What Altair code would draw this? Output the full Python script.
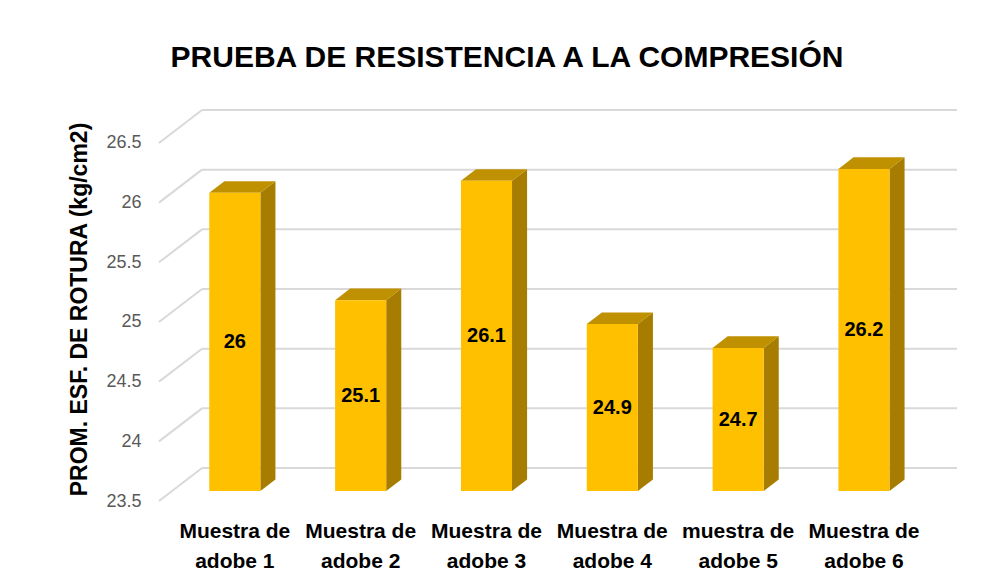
import altair as alt
import pandas as pd

# ---- data ----
categories = ["Muestra de\nadobe 1", "Muestra de\nadobe 2", "Muestra de\nadobe 3",
              "Muestra de\nadobe 4", "muestra de\nadobe 5", "Muestra de\nadobe 6"]
values = [26.0, 25.1, 26.1, 24.9, 24.7, 26.2]
y_ticks = [23.5, 24.0, 24.5, 25.0, 25.5, 26.0, 26.5]

TITLE = "PRUEBA DE RESISTENCIA A LA COMPRESIÓN"
Y_TITLE = "PROM. ESF. DE ROTURA (kg/cm2)"

# ---- 3D projection constants (style) ----
DX = 0.342      # horizontal shift of full depth, in category units
DY = 0.2765     # vertical shift of full depth, in value units
F_FRONT = 0.30  # bar front face depth fraction
F_BACK = 0.65   # bar back face depth fraction
HALF = 0.203    # half bar width in category units
BASE = y_ticks[0]
N = len(values)

X_MIN, X_MAX = -0.5, N - 0.5 + DX
Y_MIN, Y_MAX = BASE, y_ticks[-1] + DY

xs = alt.Scale(domain=[X_MIN, X_MAX], nice=False, zero=False)
ys = alt.Scale(domain=[Y_MIN, Y_MAX], nice=False, zero=False)

FONT = "Liberation Sans"
GRID = "#D9D9D9"
C_FRONT = "#FFC000"
C_TOP = "#BF9000"
C_SIDE = "#A67D00"

# ---- build tables ----
grid_rows = []
for v in y_ticks:
    grid_rows.append({"x": -0.5, "y": v, "x2": -0.5 + DX, "y2": v + DY})
    grid_rows.append({"x": -0.5 + DX, "y": v + DY, "x2": N - 0.5 + DX, "y2": v + DY})
grid = pd.DataFrame(grid_rows)

ff, fb = F_FRONT, F_BACK
front = pd.DataFrame([{
    "i": i,
    "x": i + ff * DX - HALF, "x2": i + ff * DX + HALF,
    "y": BASE + ff * DY, "y2": v + ff * DY,
} for i, v in enumerate(values)])

side_rows, top_rows = [], []
for i, v in enumerate(values):
    xr = i + ff * DX + HALF
    xl = i + ff * DX - HALF
    d = fb - ff
    side_rows.append({"i": i, "x": xr, "y": BASE + ff * DY, "y2": v + ff * DY})
    side_rows.append({"i": i, "x": xr + d * DX, "y": BASE + fb * DY, "y2": v + fb * DY})
    top_rows.append({"i": i, "y": v + ff * DY, "x": xl, "x2": xr})
    top_rows.append({"i": i, "y": v + fb * DY, "x": xl + d * DX, "x2": xr + d * DX})
side = pd.DataFrame(side_rows)
top = pd.DataFrame(top_rows)

labels = pd.DataFrame([{
    "x": i + ff * DX,
    "y": (BASE + v) / 2 + ff * DY,
    "val": f"{v:g}",
    "cat": categories[i],
} for i, v in enumerate(values)])

yaxis = alt.Axis(values=y_ticks, format=".3~g", domain=False, ticks=False, grid=False,
                 labelFont=FONT, labelFontSize=18, labelColor="#595959", labelPadding=18,
                 title=Y_TITLE, titleFont=FONT, titleFontSize=23, titleFontWeight="bold",
                 titleColor="black", titleAngle=270, titleX=-80, titleY=199,
                 titleAlign="center", titleBaseline="middle")


def Y(field):
    return alt.Y(field, scale=ys, axis=yaxis)


def X(field):
    return alt.X(field, scale=xs, axis=None)


grid_layer = alt.Chart(grid).mark_rule(color=GRID, strokeWidth=2).encode(
    x=X("x:Q"), x2="x2:Q", y=Y("y:Q"), y2="y2:Q")

front_layer = alt.Chart(front).mark_rect(color=C_FRONT).encode(
    x=X("x:Q"), x2="x2:Q", y=Y("y:Q"), y2="y2:Q")

side_layer = alt.Chart(side).mark_area(color=C_SIDE, orient="vertical", opacity=1).encode(
    x=X("x:Q"), y=Y("y:Q"), y2="y2:Q", detail="i:N")

top_layer = alt.Chart(top).mark_area(color=C_TOP, orient="horizontal", opacity=1).encode(
    y=Y("y:Q"), x=X("x:Q"), x2="x2:Q", detail="i:N")

val_layer = alt.Chart(labels).mark_text(font=FONT, fontSize=20, fontWeight="bold",
                                        color="black", baseline="middle").encode(
    x=X("x:Q"), y=Y("y:Q"), text="val:N")

cat_layer = alt.Chart(labels).mark_text(font=FONT, fontSize=21, fontWeight="bold",
                                        color="black", baseline="alphabetic",
                                        lineBreak="\n", lineHeight=30).encode(
    x=X("x:Q"), y=alt.value(428), text="cat:N")

chart = alt.layer(grid_layer, side_layer, top_layer, front_layer, val_layer, cat_layer).properties(
    width=798, height=391,
    autosize=alt.AutoSizeParams(type="none"),
    padding={"left": 151, "top": 102, "right": 27, "bottom": 77},
    title=alt.Title(TITLE, font=FONT, fontSize=30, fontWeight="bold", color="black",
                    anchor="middle", frame="group", dx=-51, offset=12, baseline="alphabetic"),
    background="white",
).configure_view(stroke=None)

chart.save("out.html", embed_options={"renderer": "svg", "actions": False})
